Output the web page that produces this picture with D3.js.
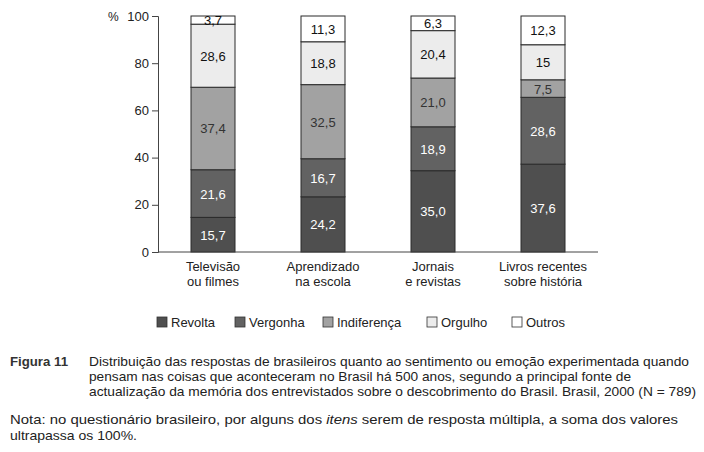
<!DOCTYPE html>
<html><head><meta charset="utf-8">
<script src="https://cdn.jsdelivr.net/npm/d3@7"></script>
<style>
body{margin:0;background:#fff;}
svg{display:block;font-family:"Liberation Sans",Arial,sans-serif;}
</style></head>
<body>
<svg id="c" width="704" height="452"></svg>
<script>
const categories = [["Televisão","ou filmes"],["Aprendizado","na escola"],["Jornais","e revistas"],["Livros recentes","sobre história"]];
const seriesNames = ["Revolta","Vergonha","Indiferença","Orgulho","Outros"];
const revolta = [15.7, 24.2, 35.0, 37.6];
const vergonha = [21.6, 16.7, 18.9, 28.6];
const indiferenca = [37.4, 32.5, 21.0, 7.5];
const orgulho = [28.6, 18.8, 20.4, 15];
const outros = [3.7, 11.3, 6.3, 12.3];
const revoltaText = ["15,7","24,2","35,0","37,6"];
const vergonhaText = ["21,6","16,7","18,9","28,6"];
const indiferencaText = ["37,4","32,5","21,0","7,5"];
const orgulhoText = ["28,6","18,8","20,4","15"];
const outrosText = ["3,7","11,3","6,3","12,3"];
const yTicks = [0,20,40,60,80,100];

const seriesVals = [revolta, vergonha, indiferenca, orgulho, outros];
const seriesText = [revoltaText, vergonhaText, indiferencaText, orgulhoText, outrosText];
const colors = ["#4f4f4f","#626262","#a2a2a2","#ececec","#ffffff"];
const textColors = ["#fff","#fff","#333","#111","#111"];

const rows = categories.map((c,i)=>{
  const r = {key:i};
  seriesNames.forEach((s,j)=>r[s]=seriesVals[j][i]);
  return r;
});
const stack = d3.stack().keys(seriesNames).offset(d3.stackOffsetExpand);
const stacked = stack(rows);

const svg = d3.select("#c");
const x = d3.scaleBand().domain(d3.range(categories.length)).range([158,598]).paddingInner(0.6).paddingOuter(0.3);
const y = d3.scaleLinear().domain([0,100]).range([252,16]);

// bars
stacked.forEach((layer,j)=>{
  const g = svg.append("g");
  g.selectAll("rect").data(layer).join("rect")
    .attr("x",(d,i)=>x(i)).attr("width",x.bandwidth())
    .attr("y",d=>y(d[1]*100)).attr("height",d=>y(d[0]*100)-y(d[1]*100))
    .attr("fill",colors[j]).attr("stroke","#2a2a2a").attr("stroke-width",1);
  g.selectAll("text").data(layer).join("text")
    .attr("x",(d,i)=>x(i)+x.bandwidth()/2)
    .attr("y",d=>y((d[0]+d[1])/2*100)+5)
    .attr("text-anchor","middle").attr("font-size",13)
    .attr("fill",textColors[j])
    .text((d,i)=>seriesText[j][i]);
});

// y axis
const ya = svg.append("g").attr("transform","translate(158,0)")
  .call(d3.axisLeft(y).tickValues(yTicks).tickSize(6).tickPadding(3));
ya.selectAll("text").attr("font-size",13).attr("fill","#222").attr("font-family","Liberation Sans, Arial, sans-serif");
ya.selectAll("line,path").attr("stroke","#444");
svg.append("text").attr("x",108).attr("y",21).attr("font-size",12).attr("fill","#222").text("%");

// x baseline
svg.append("line").attr("x1",158).attr("x2",598).attr("y1",252).attr("y2",252).attr("stroke","#444");

// category labels
categories.forEach((c,i)=>{
  c.forEach((t,k)=>{
    svg.append("text").attr("x",x(i)+x.bandwidth()/2).attr("y",271+k*15)
      .attr("text-anchor","middle").attr("font-size",13).attr("fill","#222").text(t);
  });
});

// legend
const legendX = [157,235,323,427,512];
seriesNames.forEach((s,j)=>{
  svg.append("rect").attr("x",legendX[j]).attr("y",317).attr("width",10).attr("height",10)
    .attr("fill",colors[j]).attr("stroke","#333").attr("stroke-width",0.8);
  svg.append("text").attr("x",legendX[j]+14).attr("y",327).attr("font-size",13).attr("fill","#222").text(s);
});

// caption
svg.append("text").attr("x",10).attr("y",366).attr("font-size",12.5).attr("font-weight","bold").attr("fill","#333")
  .attr("textLength",58).attr("lengthAdjust","spacingAndGlyphs").text("Figura 11");
const cap = ["Distribuição das respostas de brasileiros quanto ao sentimento ou emoção experimentada quando",
 "pensam nas coisas que aconteceram no Brasil há 500 anos, segundo a principal fonte de",
 "actualização da memória dos entrevistados sobre o descobrimento do Brasil. Brasil, 2000 (N = 789)"];
const capLen = [600, 542, 607];
cap.forEach((t,k)=>svg.append("text").attr("x",89).attr("y",366+k*15).attr("font-size",13).attr("fill","#222")
  .attr("textLength",capLen[k]).attr("lengthAdjust","spacingAndGlyphs").text(t));
const n1 = svg.append("text").attr("x",10).attr("y",424).attr("font-size",13).attr("fill","#222")
  .attr("textLength",668).attr("lengthAdjust","spacingAndGlyphs");
n1.append("tspan").text("Nota: no questionário brasileiro, por alguns dos ");
n1.append("tspan").attr("font-style","italic").text("itens");
n1.append("tspan").text(" serem de resposta múltipla, a soma dos valores");
svg.append("text").attr("x",10).attr("y",440).attr("font-size",13).attr("fill","#222")
  .attr("textLength",127).attr("lengthAdjust","spacingAndGlyphs").text("ultrapassa os 100%.");
</script>
</body></html>
